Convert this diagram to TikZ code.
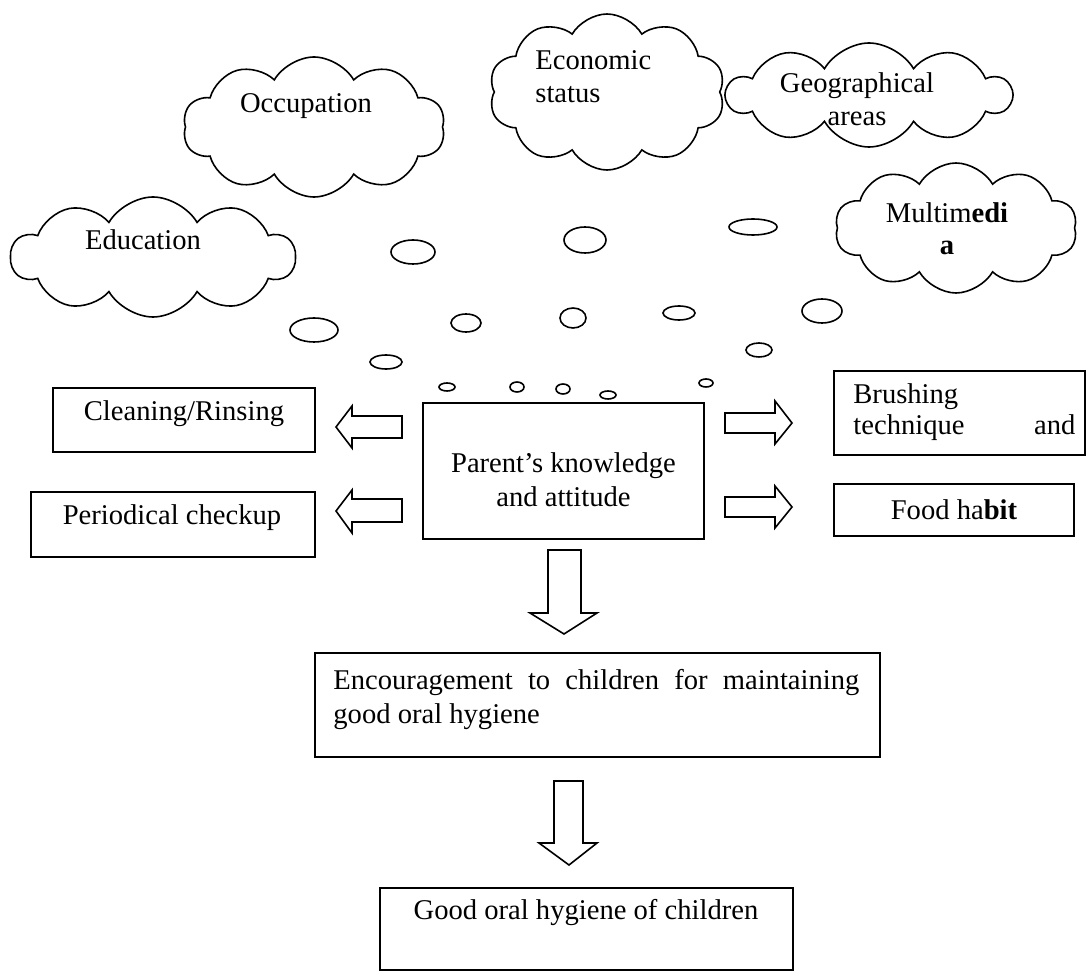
\documentclass[tikz,border=0pt]{standalone}
\usepackage{fontspec}
\setmainfont{Liberation Serif}
\usetikzlibrary{shapes.symbols}
\begin{document}
\begin{tikzpicture}[x=0.5pt,y=-0.5pt,
  box/.style={draw, line width=0.8pt, inner sep=0pt},
  txt/.style={font=\fontsize{14.3}{17}\selectfont, inner sep=0pt},
  cl/.style={cloud, draw, line width=0.8pt, cloud puffs=10, cloud puff arc=120, cloud ignores aspect, inner sep=0pt},
  blk/.style={draw, line width=0.8pt, line join=miter},
  bub/.style={draw, line width=0.8pt}]
\useasboundingbox (0,0) rectangle (1087,972);

% clouds
\node[cl, minimum width=131pt, minimum height=70pt] (occ) at (314,127) {};
\node[txt] (occt) at (306,106) {Occupation};
\node[cl, minimum width=142pt, minimum height=60pt] (edu) at (153,257) {};
\node[txt] (edut) at (143,240) {Education};
\node[cl, minimum width=118pt, minimum height=78pt] (eco) at (607,92) {};
\node[txt, anchor=west, align=left, font=\fontsize{14.3}{16.5}\selectfont] (ecot) at (535,77) {Economic\\status};
\node[cl, minimum width=142pt, minimum height=52pt] (geo) at (869,95) {};
\node[txt, align=center, font=\fontsize{14.3}{16.5}\selectfont] (geot) at (857,99) {Geographical\\areas};
\node[cl, minimum width=121pt, minimum height=65pt] (mm) at (956,228) {};
\node[txt, align=center, font=\fontsize{14.3}{16}\selectfont] (mmt) at (947,229) {Multim\textbf{edi}\\\textbf{a}};

% bubbles
\foreach \x/\y/\rx/\ry in {413/252/11/6, 314/330/12/6, 466/323/7.5/4.5, 386/362/8/3.5,
  447/387/4/2, 517/387/3.5/2.5, 563/389/3.5/2.5, 608/395/4/2, 706/383/3.5/2,
  585/240/10.5/6.5, 753/227/12/4, 573/318/6.5/5, 679/313/8/3.5, 822/311/10/6, 759/350/6.5/3.5}
  \draw[bub] (\x,\y) ellipse [x radius=\rx pt, y radius=\ry pt];

% boxes
\node[box, minimum width=131pt, minimum height=32pt] (clean) at (184,420) {};
\node[txt] (cleant) at (184,414) {Cleaning/Rinsing};
\node[box, minimum width=142pt, minimum height=32.5pt] (peri) at (173,524.5) {};
\node[txt] (perit) at (172,518) {Periodical checkup};
\node[box, minimum width=140.5pt, minimum height=68pt] (parent) at (563.5,471) {};
\node[txt, align=center] (parentt) at (563.5,480) {Parent’s knowledge\\and attitude};
\node[box, minimum width=125.5pt, minimum height=42pt] (brush) at (959.5,413) {};
\node[txt, anchor=west, align=left, font=\fontsize{14.3}{15.5}\selectfont] (brusht) at (853,412) {Brushing\\\makebox[111pt][s]{technique\hfill and}};
\node[box, minimum width=120pt, minimum height=26pt] (food) at (954,510) {};
\node[txt] (foodt) at (954,510) {Food ha\textbf{bit}};
\node[box, minimum width=282.5pt, minimum height=52pt] (enc) at (597.5,705) {};
\node[txt, anchor=west, align=left] (enct) at (333,700) {\makebox[263pt][s]{Encouragement to children for maintaining}\\good oral hygiene};
\node[box, minimum width=206.5pt, minimum height=41pt] (good) at (586.5,929) {};
\node[txt] (goodt) at (586,913) {Good oral hygiene of children};

% block arrows
\draw[blk] (402,416) -- (352,416) -- (352,406) -- (336,427) -- (352,448) -- (352,438) -- (402,438) -- cycle;
\draw[blk] (402,499) -- (352,499) -- (352,490) -- (336,511) -- (352,533) -- (352,522) -- (402,522) -- cycle;
\draw[blk] (725,413) -- (775,413) -- (775,401) -- (792,423) -- (775,444) -- (775,433) -- (725,433) -- cycle;
\draw[blk] (725,497) -- (775,497) -- (775,486) -- (792,507) -- (775,528) -- (775,517) -- (725,517) -- cycle;
\draw[blk] (548,550) -- (581,550) -- (581,613) -- (597,613) -- (564,634) -- (530,613) -- (548,613) -- cycle;
\draw[blk] (554,781) -- (583,781) -- (583,843) -- (597,843) -- (569,865) -- (539,843) -- (554,843) -- cycle;
\end{tikzpicture}
\end{document}
